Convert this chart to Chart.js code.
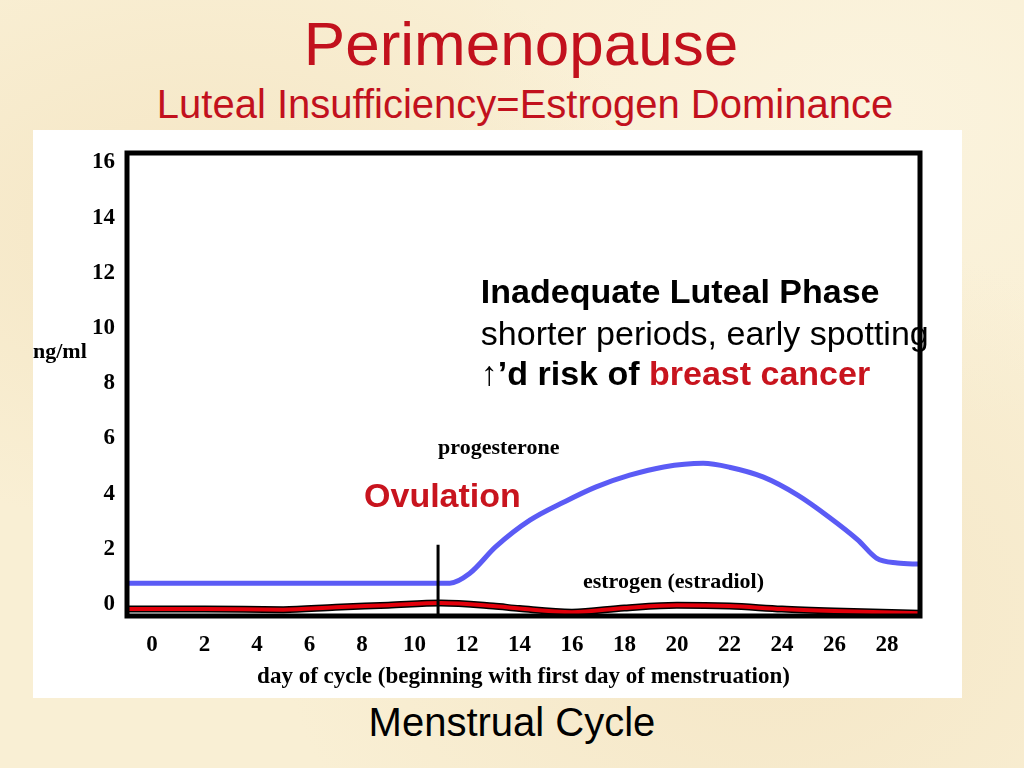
<!DOCTYPE html>
<html lang="en">
<head>
    <meta charset="UTF-8">
    <script src="https://cdn.jsdelivr.net/npm/chart.js"></script>
    <title>Perimenopause</title>
    <style>
        body {
            margin: 0;
            width: 1024px;
            height: 768px;
            overflow: hidden;
            position: relative;
            background-color: #f9efd4;
            background-image:
                radial-gradient(ellipse at 20% 30%, rgba(240,220,180,0.5), transparent 40%),
                radial-gradient(ellipse at 75% 80%, rgba(240,222,185,0.5), transparent 45%),
                radial-gradient(ellipse at 85% 15%, rgba(252,246,228,0.6), transparent 35%);
            font-family: "Liberation Sans", Arial, sans-serif;
        }
        .head {
            position: absolute;
            width: 1024px;
            text-align: center;
            color: #c2111d;
            white-space: nowrap;
        }
        #title { top: 13px; left: 9px; font-size: 62px; line-height: 62px; }
        #subtitle { top: 84px; left: 13px; font-size: 40px; line-height: 40px; }
        #caption { top: 702px; left: 0; font-size: 40px; line-height: 40px; color: #000; }
        #panel {
            position: absolute;
            left: 33px; top: 130px;
            width: 929px; height: 568px;
            background: #fff;
        }
    </style>
</head>
<body>
    <div class="head" id="title">Perimenopause</div>
    <div class="head" id="subtitle">Luteal Insufficiency=Estrogen Dominance</div>
    <div id="panel">
        <canvas id="cycleChart" width="929" height="568"></canvas>
    </div>
    <div class="head" id="caption">Menstrual Cycle</div>

    <script>
        // values (day of cycle, ng/ml)
        const xTicks = [0, 2, 4, 6, 8, 10, 12, 14, 16, 18, 20, 22, 24, 26, 28]
        const yTicks = [0, 2, 4, 6, 8, 10, 12, 14, 16]

        const progDays = [-0.95, 11.35, 12.1, 13.1, 14.4, 15.7, 16.9, 18.2, 19.5, 21.0, 22.0, 23.3, 24.6, 25.8, 26.9, 27.6, 28.4, 29.26]
        const progVals = [0.76, 0.76, 1.11, 2.08, 3.04, 3.7, 4.24, 4.67, 4.97, 5.1, 4.96, 4.6, 3.95, 3.15, 2.32, 1.67, 1.49, 1.45]

        const estDays = [-0.95, 2, 5, 7, 9, 11, 13, 14, 16, 18, 20, 22, 24, 26, 29.26]
        const estVals = [-0.18, -0.18, -0.2, -0.11, -0.04, 0.04, -0.07, -0.16, -0.29, -0.14, -0.04, -0.07, -0.18, -0.25, -0.33]

        const ovuDays = [10.9, 10.9]
        const ovuVals = [2.15, -0.43]

        const pts = (xs, ys) => xs.map((x, i) => ({ x: x, y: ys[i] }))

        const serif = '"Liberation Serif", "Times New Roman", serif'
        const sans = '"Liberation Sans", Arial, sans-serif'

        // box round the plot + text notes inside it
        const notes = {
            id: 'notes',
            afterDatasetsDraw(chart) {
                const ctx = chart.ctx
                const a = chart.chartArea
                const x = chart.scales.x, y = chart.scales.y
                ctx.save()
                ctx.strokeStyle = '#000'
                ctx.lineWidth = 5
                ctx.strokeRect(a.left, a.top, a.right - a.left, a.bottom - a.top)

                ctx.textBaseline = 'middle'
                ctx.textAlign = 'left'
                ctx.fillStyle = '#000'
                ctx.font = 'bold 22px ' + serif
                ctx.fillText('ng/ml', 0, y.getPixelForValue(9.13))
                ctx.fillText('progesterone', x.getPixelForValue(10.9), y.getPixelForValue(5.65))
                ctx.fillText('estrogen (estradiol)', x.getPixelForValue(16.42), y.getPixelForValue(0.8))

                ctx.fillStyle = '#c8141e'
                ctx.font = 'bold 34px ' + sans
                ctx.fillText('Ovulation', x.getPixelForValue(8.08), y.getPixelForValue(3.84))

                const lx = x.getPixelForValue(12.53)
                ctx.fillStyle = '#000'
                ctx.font = 'bold 34px ' + sans
                ctx.fillText('Inadequate Luteal Phase', lx, y.getPixelForValue(11.23))
                ctx.font = '34px ' + sans
                ctx.fillText('shorter periods, early spotting', lx, y.getPixelForValue(9.71))
                const ly = y.getPixelForValue(8.26)
                ctx.fillText('\u2191', lx, ly)
                let cx = lx + ctx.measureText('\u2191').width
                ctx.font = 'bold 34px ' + sans
                ctx.fillText('\u2019d risk of ', cx, ly)
                cx += ctx.measureText('\u2019d risk of ').width
                ctx.fillStyle = '#c8141e'
                ctx.fillText('breast cancer', cx, ly)
                ctx.restore()
            }
        }

        const ctx = document.getElementById('cycleChart').getContext('2d')
        const cycleChart = new Chart(ctx, {
            type: 'line',
            data: {
                datasets: [
                    {
                        label: 'progesterone',
                        data: pts(progDays, progVals),
                        borderColor: '#5b5bf5',
                        borderWidth: 5,
                        cubicInterpolationMode: 'monotone',
                        order: 1
                    },
                    {
                        label: 'estrogen (estradiol)',
                        data: pts(estDays, estVals),
                        borderColor: '#e3000b',
                        borderWidth: 4,
                        cubicInterpolationMode: 'monotone',
                        order: 2
                    },
                    {
                        label: 'estrogen outline',
                        data: pts(estDays, estVals),
                        borderColor: '#000',
                        borderWidth: 7,
                        cubicInterpolationMode: 'monotone',
                        order: 3
                    },
                    {
                        label: 'ovulation',
                        data: pts(ovuDays, ovuVals),
                        borderColor: '#000',
                        borderWidth: 3,
                        order: 0
                    }
                ]
            },
            options: {
                responsive: false,
                animation: false,
                devicePixelRatio: 1,
                elements: { point: { radius: 0 } },
                layout: { padding: { top: 23, right: 42, left: 0, bottom: 0 } },
                plugins: {
                    legend: { display: false },
                    tooltip: { enabled: false }
                },
                scales: {
                    x: {
                        type: 'linear',
                        min: -0.95,
                        max: 29.26,
                        grid: { display: false },
                        border: { display: false },
                        afterBuildTicks: s => { s.ticks = xTicks.map(v => ({ value: v })) },
                        afterFit: s => { s.height = 82 },
                        ticks: {
                            color: '#000',
                            padding: 7,
                            maxRotation: 0,
                            font: { family: serif, size: 23, weight: 'bold' }
                        },
                        title: {
                            display: true,
                            text: 'day of cycle (beginning with first day of menstruation)',
                            color: '#000',
                            padding: { top: 0, bottom: 7 },
                            font: { family: serif, size: 23, weight: 'bold' }
                        }
                    },
                    y: {
                        min: -0.43,
                        max: 16.34,
                        grid: { display: false },
                        border: { display: false },
                        afterBuildTicks: s => { s.ticks = yTicks.map(v => ({ value: v })) },
                        afterFit: s => { s.width = 94 },
                        ticks: {
                            color: '#000',
                            padding: 4,
                            font: { family: serif, size: 23, weight: 'bold' }
                        }
                    }
                }
            },
            plugins: [notes]
        })
    </script>
</body>
</html>
